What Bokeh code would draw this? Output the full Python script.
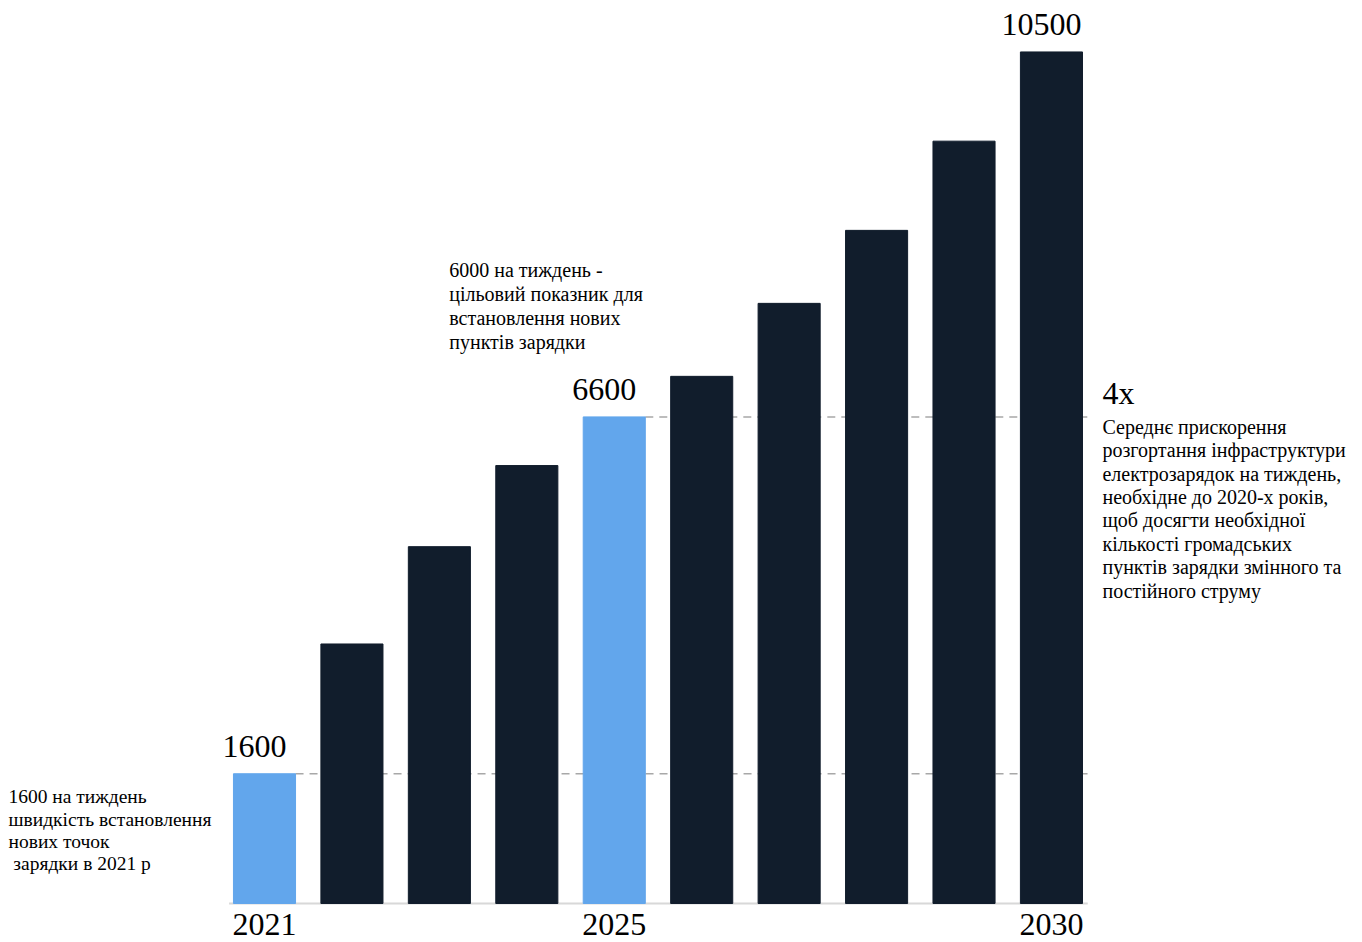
from bokeh.plotting import figure
from bokeh.models import Range1d, ColumnDataSource
from bokeh.embed import file_html
from bokeh.resources import INLINE
from bokeh.core.properties import value

years = [2021, 2022, 2023, 2024, 2025, 2026, 2027, 2028, 2029, 2030]
rates = [1600, 3200, 4400, 5400, 6000, 6500, 7400, 8300, 9400, 10500]
highlight = [True, False, False, False, True, False, False, False, False, False]
value_labels = ["1600", "", "", "", "6600", "", "", "", "", "10500"]
year_labels = ["2021", "", "", "", "2025", "", "", "", "", "2030"]

left_note = ["1600 на тиждень", "швидкість встановлення", "нових точок", "\u00a0зарядки в 2021 р"]
mid_note = ["6000 на тиждень -", "цільовий показник для", "встановлення нових", "пунктів зарядки"]
right_head = "4x"
right_note = ["Середнє прискорення", "розгортання інфраструктури", "електрозарядок на тиждень,",
              "необхідне до 2020-х років,", "щоб досягти необхідної", "кількості громадських",
              "пунктів зарядки змінного та", "постійного струму"]

BLUE = "#62a6ec"
DARK = "#111d2c"
FONT = value("Liberation Serif")
W = 0.71


def fix(fs):
    # empirical correction of the rendered baseline position
    return -0.3 * fs


colors = [BLUE if h else DARK for h in highlight]
src = ColumnDataSource(dict(x=years, top=rates, color=colors))

p = figure(width=1354, height=942, output_backend="svg", toolbar_location=None,
           x_range=Range1d(2017.9808, 2033.4657), y_range=Range1d(-480.9, 11134.4),
           min_border=0, outline_line_color=None)
p.axis.visible = False
p.grid.visible = False
p.background_fill_color = "white"

# dashed reference lines (behind bars)
x_end = years[-1] + W / 2 + 0.06
p.segment(x0=[years[0] + W / 2, years[4] + W / 2], x1=[x_end, x_end],
          y0=[rates[0], rates[4]], y1=[rates[0], rates[4]],
          line_color="#a8a8a8", line_width=1.5, line_dash="8 6")

# baseline
p.segment(x0=[years[0] - W / 2 - 0.05], x1=[x_end], y0=[0], y1=[0],
          line_color="#d8d8d8", line_width=2)

p.vbar(x="x", top="top", width=W, bottom=0, color="color", source=src)

# value labels
lab_x, lab_y, lab_t = [], [], []
for yr, r, t in zip(years, rates, value_labels):
    if t:
        lab_x.append(yr); lab_y.append(r); lab_t.append(t)
p.text(x=lab_x, y=lab_y, text=lab_t, text_font=FONT, text_font_size="32px",
       text_align="center", text_baseline="alphabetic", y_offset=-18 + fix(32), x_offset=-10,
       text_color="black")

# year labels
yl_x = [yr for yr, t in zip(years, year_labels) if t]
yl_t = [t for t in year_labels if t]
p.text(x=yl_x, y=[0] * len(yl_x), text=yl_t, text_font=FONT, text_font_size="32px",
       text_align="center", text_baseline="alphabetic", y_offset=31 + fix(32), x_offset=0,
       text_color="black")

# left note
for i, line in enumerate(left_note):
    p.text(x=[years[0]], y=[rates[0]], text=[line], text_font=FONT, text_font_size="19.5px",
           text_align="left", text_baseline="alphabetic", x_offset=-256,
           y_offset=29 + fix(19.5) + i * 22.3, text_color="black")

# middle note
for i, line in enumerate(mid_note):
    p.text(x=[years[4]], y=[rates[4]], text=[line], text_font=FONT, text_font_size="20px",
           text_align="left", text_baseline="alphabetic", x_offset=-165,
           y_offset=-141 + fix(20) + i * 24, text_color="black")

# right note
p.text(x=[years[-1]], y=[rates[4]], text=[right_head], text_font=FONT, text_font_size="32px",
       text_align="left", text_baseline="alphabetic", x_offset=51, y_offset=-14 + fix(32),
       text_color="black")
for i, line in enumerate(right_note):
    p.text(x=[years[-1]], y=[rates[4]], text=[line], text_font=FONT, text_font_size="20px",
           text_align="left", text_baseline="alphabetic", x_offset=51,
           y_offset=16 + fix(20) + i * 23.4, text_color="black")

open("out.html", "w").write(file_html(p, INLINE))
